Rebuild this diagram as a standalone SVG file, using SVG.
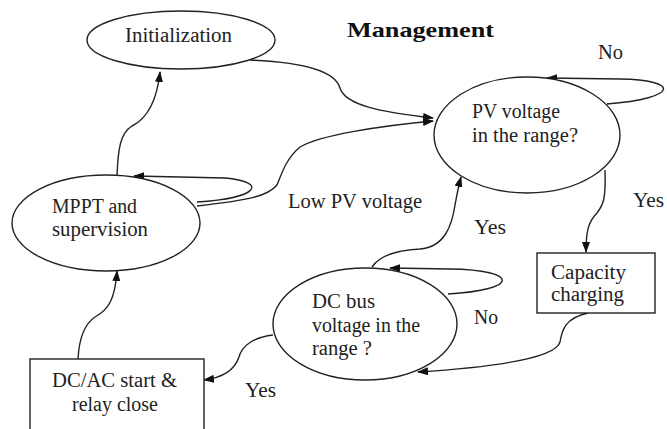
<svg xmlns="http://www.w3.org/2000/svg" width="667" height="429" viewBox="0 0 667 429">
<style>
.n{fill:#fff;stroke:#222;stroke-width:1.4}
.t{font-family:'Liberation Serif','Times New Roman',serif;font-size:20px;fill:#222}
.c{fill:none;stroke:#222;stroke-width:1.4;marker-end:url(#ah)}
.h{font-family:'Liberation Serif','Times New Roman',serif;font-size:22px;font-weight:bold;fill:#111}
</style>
<defs>
<marker id="ah" viewBox="0 0 11 8" refX="10" refY="4" markerWidth="11" markerHeight="8" markerUnits="userSpaceOnUse" orient="auto">
<path d="M0,0 L11,4 L0,8 Z" fill="#111"/>
</marker>
</defs>
<rect width="667" height="429" fill="#fff"/>
<g id="connectors">
<path class="c" d="M117,176 C118,150 120,133 132,126 C148,118 157,100 160,72"/>
<path class="c" d="M250,60 C300,62 335,70 340,88 C345,105 380,112 433,118"/>
<path class="c" d="M197,206 C250,200 268,196 277,185 C283,170 287,158 300,147 C320,135 380,126 433,121"/>
<path class="c" d="M197,202 C260,198 268,182 225,178 L134,176"/>
<path class="c" d="M607,104 C680,98 680,80 620,79 L547,78"/>
<path class="c" d="M605,170 C606,200 603,205 597,213 C588,222 586,232 586,252"/>
<path class="c" d="M588,313 C565,318 562,330 560,342 C555,360 480,368 418,372"/>
<path class="c" d="M448,294 C520,290 520,270 450,269 L390,268"/>
<path class="c" d="M372,267 C380,255 400,250 420,249 C445,247 452,225 455,205 C457,195 458,188 461,177"/>
<path class="c" d="M273,335 C255,337 242,345 239,357 C234,372 220,378 204,380"/>
<path class="c" d="M78,359 C79,340 83,325 95,317 C108,310 115,300 117,271"/>
</g>
<g id="initialization">
<ellipse class="n" cx="181" cy="40" rx="94" ry="29"/>
<text class="t" x="125" y="42" textLength="107" lengthAdjust="spacingAndGlyphs">Initialization</text>
</g>
<g id="mppt">
<ellipse class="n" cx="106" cy="223" rx="94" ry="48"/>
<text class="t" x="52" y="213" textLength="85" lengthAdjust="spacingAndGlyphs">MPPT and</text>
<text class="t" x="52" y="236" textLength="96" lengthAdjust="spacingAndGlyphs">supervision</text>
</g>
<g id="pv">
<ellipse class="n" cx="527" cy="135" rx="93" ry="58"/>
<text class="t" x="472" y="118" textLength="88" lengthAdjust="spacingAndGlyphs">PV voltage</text>
<text class="t" x="472" y="142" textLength="106" lengthAdjust="spacingAndGlyphs">in the range?</text>
</g>
<g id="dcbus">
<ellipse class="n" cx="365" cy="324" rx="92" ry="56"/>
<text class="t" x="312" y="308" textLength="63" lengthAdjust="spacingAndGlyphs">DC bus</text>
<text class="t" x="312" y="332" textLength="108" lengthAdjust="spacingAndGlyphs">voltage in the</text>
<text class="t" x="312" y="355" textLength="60" lengthAdjust="spacingAndGlyphs">range ?</text>
</g>
<g id="capacity">
<rect class="n" x="537" y="253" width="118" height="60"/>
<text class="t" x="551" y="279" textLength="75" lengthAdjust="spacingAndGlyphs">Capacity</text>
<text class="t" x="551" y="301" textLength="73" lengthAdjust="spacingAndGlyphs">charging</text>
</g>
<g id="dcac">
<rect class="n" x="30" y="359" width="174" height="80"/>
<text class="t" x="52" y="387" textLength="125" lengthAdjust="spacingAndGlyphs">DC/AC start &amp;</text>
<text class="t" x="72" y="411" textLength="86" lengthAdjust="spacingAndGlyphs">relay close</text>
</g>
<g id="labels">
<text class="h" x="347" y="37" textLength="147" lengthAdjust="spacingAndGlyphs">Management</text>
<text class="t" x="598" y="59" textLength="25" lengthAdjust="spacingAndGlyphs">No</text>
<text class="t" x="633" y="207" textLength="31" lengthAdjust="spacingAndGlyphs">Yes</text>
<text class="t" x="288" y="208" textLength="134" lengthAdjust="spacingAndGlyphs">Low PV voltage</text>
<text class="t" x="474" y="234" textLength="32" lengthAdjust="spacingAndGlyphs">Yes</text>
<text class="t" x="474" y="324" textLength="24" lengthAdjust="spacingAndGlyphs">No</text>
<text class="t" x="245" y="397" textLength="31" lengthAdjust="spacingAndGlyphs">Yes</text>
</g>
</svg>
